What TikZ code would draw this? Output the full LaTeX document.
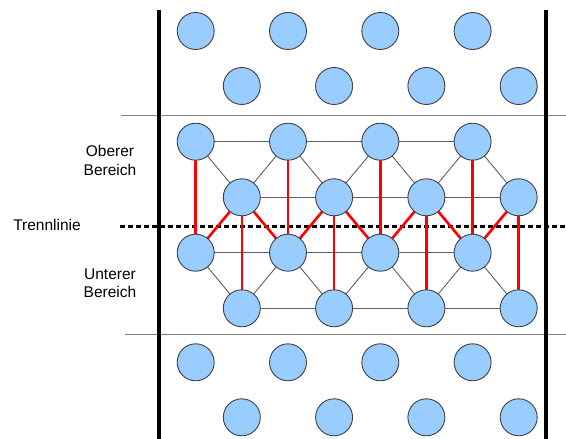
\documentclass[tikz,border=0pt]{standalone}
\usepackage{fontspec}
\setmainfont{Liberation Sans}
\begin{document}
\begin{tikzpicture}[x=1pt,y=-1pt,
  atom/.style={circle,minimum size=37pt,inner sep=0pt,fill={rgb,255:red,153;green,204;blue,255},draw={rgb,255:red,64;green,64;blue,64},line width=0.9pt},
  bond/.style={draw={rgb,255:red,96;green,96;blue,96},line width=0.9pt},
  cut/.style={draw=red,line width=2.6pt},
  wall/.style={draw=black,line width=3.6pt},
  sep/.style={draw={rgb,255:red,128;green,128;blue,128},line width=1.4pt},
  lbl/.style={font=\fontsize{15.5}{18.3}\selectfont,align=center,inner sep=0pt}]
\useasboundingbox (0,0) rectangle (566,439);
% rows
\foreach \r/\y in {1/31,2/86,3/141.7,4/197.3,5/252.7,6/308.3,7/362.3,8/417.3}{
  \pgfmathtruncatemacro{\odd}{mod(\r,2)}
  \foreach \c in {1,...,4}{
    \pgfmathsetmacro{\xx}{195.7+92.3*(\c-1)+(1-\odd)*46.1}
    \coordinate (p\r c\c) at (\xx,\y);
  }
}
% separators
\coordinate (s1a) at (121,115.7); \coordinate (s1b) at (566,115.7);
\coordinate (s2a) at (125,334.3); \coordinate (s2b) at (566,334.3);
\coordinate (da) at (120,226.5); \coordinate (db) at (566,226.5);
\draw[sep] (s1a) -- (s1b);
\draw[sep] (s2a) -- (s2b);
\draw[line width=2.6pt,dash pattern=on 5pt off 3pt] (da) -- (db);
% gray bonds
\foreach \r in {3,4,5,6}{
  \draw[bond] (p\r c1) -- (p\r c2) -- (p\r c3) -- (p\r c4);
}
\foreach \a/\b in {3/4,5/6}{
  \draw[bond] (p\a c1) -- (p\b c1) -- (p\a c2) -- (p\b c2) -- (p\a c3) -- (p\b c3) -- (p\a c4) -- (p\b c4);
}
% red bonds
\foreach \c in {1,...,4}{
  \draw[cut] (p3c\c) -- (p5c\c);
  \draw[cut] (p4c\c) -- (p6c\c);
  \draw[cut] (p4c\c) -- (p5c\c);
}
\foreach \c/\n in {1/2,2/3,3/4}{
  \draw[cut] (p4c\c) -- (p5c\n);
}
% atoms
\foreach \r in {1,...,8}{
  \foreach \c in {1,...,4}{
    \node[atom] (a\r c\c) at (p\r c\c) {};
  }
}
% walls
\coordinate (w1a) at (159,10); \coordinate (w1b) at (159,439);
\coordinate (w2a) at (546,10); \coordinate (w2b) at (546,439);
\draw[wall] (w1a) -- (w1b);
\draw[wall] (w2a) -- (w2b);
% labels
\node[lbl] (ob) at (110,160.5) {Oberer\\Bereich};
\node[lbl] (tr) at (47,224.5) {Trennlinie};
\node[lbl] (ub) at (110,283) {Unterer\\Bereich};
\end{tikzpicture}
\end{document}
